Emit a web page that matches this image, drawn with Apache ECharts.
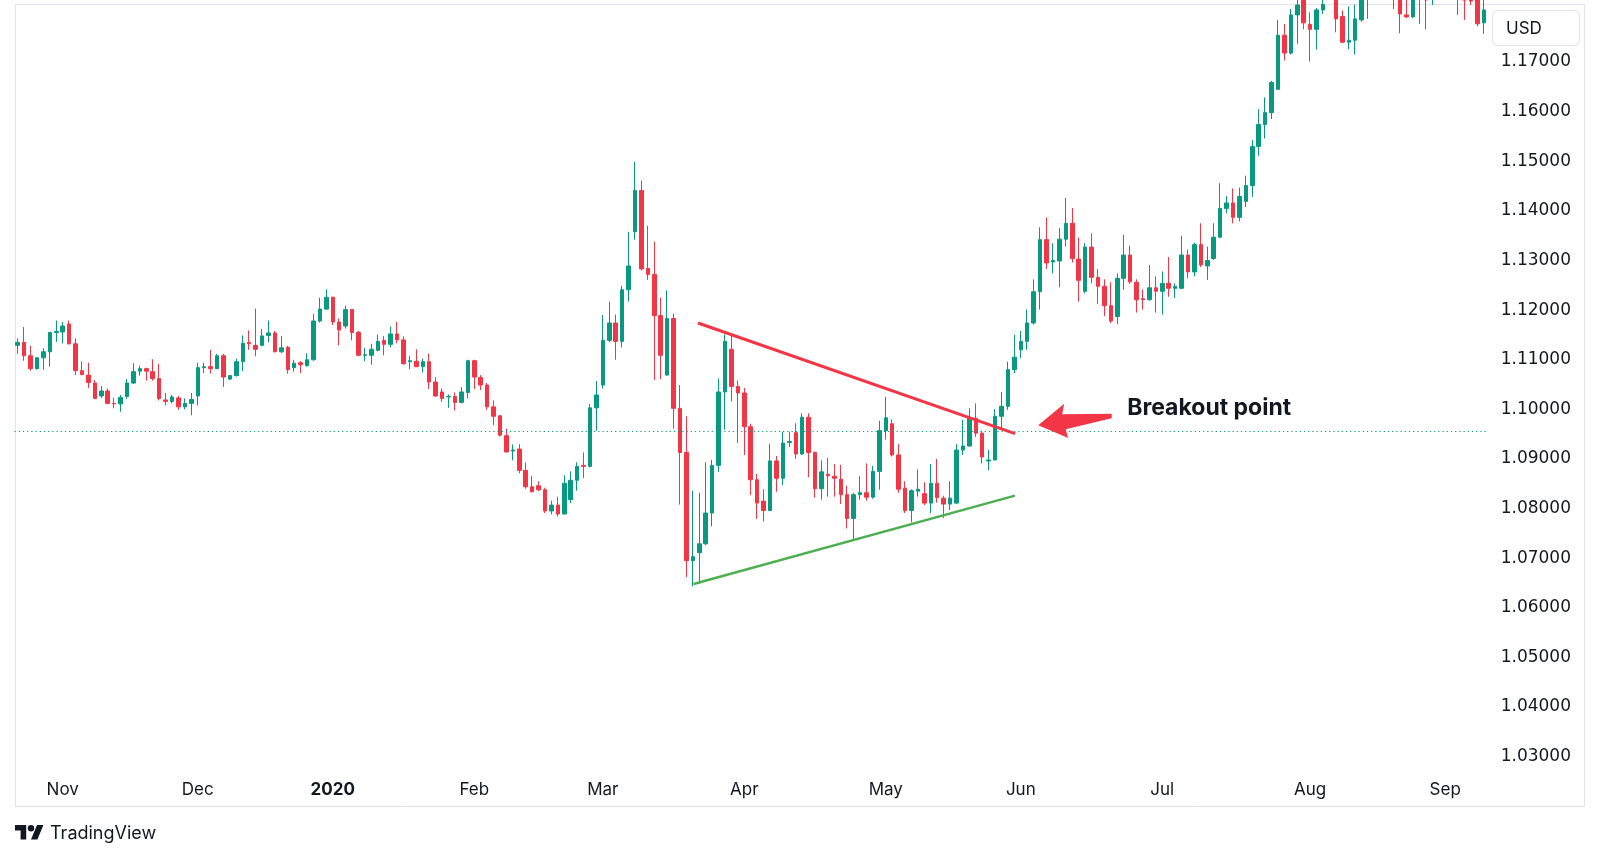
<!DOCTYPE html>
<html>
<head>
<meta charset="utf-8">
<title>EURUSD daily - triangle breakout</title>
<script src="https://cdn.jsdelivr.net/npm/echarts@6/dist/echarts.min.js"></script>
<style>
  html, body { margin: 0; padding: 0; background: #fff; }
  #chart { width: 1600px; height: 859px; }
</style>
</head>
<body>
<div id="chart"></div>
<script>
// daily candles, [open, close, low, high]
const candles2019 = [
  [1.1124, 1.1130, 1.1107, 1.1138], [1.1130, 1.1103, 1.1093, 1.1161], [1.1103, 1.1077, 1.1073, 1.1123],
  [1.1077, 1.1099, 1.1075, 1.1100], [1.1099, 1.1111, 1.1075, 1.1118], [1.1111, 1.1150, 1.1081, 1.1151],
  [1.1150, 1.1152, 1.1131, 1.1174], [1.1151, 1.1163, 1.1128, 1.1171], [1.1167, 1.1127, 1.1126, 1.1174],
  [1.1127, 1.1073, 1.1064, 1.1138], [1.1073, 1.1065, 1.1064, 1.1092], [1.1064, 1.1049, 1.1038, 1.1089],
  [1.1048, 1.1017, 1.1016, 1.1054], [1.1022, 1.1032, 1.1018, 1.1042], [1.1032, 1.1007, 1.1005, 1.1037],
  [1.1007, 1.1006, 1.0997, 1.1018], [1.1006, 1.1019, 1.0990, 1.1024], [1.1021, 1.1048, 1.1016, 1.1056],
  [1.1048, 1.1071, 1.1046, 1.1088], [1.1072, 1.1077, 1.1063, 1.1083], [1.1077, 1.1072, 1.1053, 1.1079],
  [1.1071, 1.1057, 1.1053, 1.1096], [1.1057, 1.1017, 1.1013, 1.1087], [1.1014, 1.1011, 1.1003, 1.1028],
  [1.1011, 1.1020, 1.1007, 1.1024], [1.1018, 1.1000, 1.0994, 1.1022], [1.1000, 1.1007, 1.0995, 1.1017],
  [1.1007, 1.1015, 1.0983, 1.1028], [1.1022, 1.1079, 1.1003, 1.1089], [1.1079, 1.1081, 1.1068, 1.1089],
  [1.1081, 1.1077, 1.1067, 1.1115], [1.1077, 1.1103, 1.1076, 1.1107], [1.1103, 1.1060, 1.1040, 1.1107],
  [1.1056, 1.1063, 1.1054, 1.1064], [1.1063, 1.1091, 1.1061, 1.1097], [1.1091, 1.1128, 1.1072, 1.1144],
  [1.1130, 1.1127, 1.1115, 1.1154], [1.1124, 1.1116, 1.1102, 1.1198], [1.1124, 1.1143, 1.1122, 1.1157],
  [1.1144, 1.1149, 1.1130, 1.1174], [1.1149, 1.1111, 1.1110, 1.1153], [1.1111, 1.1119, 1.1108, 1.1143],
  [1.1120, 1.1075, 1.1067, 1.1123], [1.1079, 1.1088, 1.1071, 1.1095], [1.1089, 1.1085, 1.1068, 1.1092],
  [1.1083, 1.1095, 1.1081, 1.1108], [1.1095, 1.1173, 1.1093, 1.1187], [1.1173, 1.1197, 1.1170, 1.1220],
  [1.1197, 1.1221, 1.1196, 1.1237]
]

const candles2020Q1 = [
  [1.1221, 1.1171, 1.1165, 1.1222], [1.1171, 1.1155, 1.1124, 1.1178], [1.1163, 1.1196, 1.1158, 1.1204],
  [1.1196, 1.1150, 1.1134, 1.1197], [1.1150, 1.1104, 1.1102, 1.1153], [1.1104, 1.1105, 1.1092, 1.1119],
  [1.1104, 1.1116, 1.1085, 1.1127], [1.1114, 1.1132, 1.1112, 1.1146], [1.1134, 1.1126, 1.1104, 1.1143],
  [1.1126, 1.1147, 1.1120, 1.1162], [1.1147, 1.1135, 1.1128, 1.1171], [1.1135, 1.1087, 1.1085, 1.1142],
  [1.1091, 1.1093, 1.1076, 1.1103], [1.1092, 1.1081, 1.1080, 1.1116], [1.1081, 1.1091, 1.1069, 1.1097],
  [1.1091, 1.1050, 1.1036, 1.1107], [1.1050, 1.1022, 1.1020, 1.1060], [1.1030, 1.1017, 1.1010, 1.1037],
  [1.1020, 1.1021, 1.0998, 1.1025], [1.1021, 1.1009, 1.0993, 1.1029], [1.1009, 1.1030, 1.1007, 1.1040],
  [1.1029, 1.1093, 1.1017, 1.1095], [1.1093, 1.1060, 1.1036, 1.1095], [1.1059, 1.1044, 1.1034, 1.1064],
  [1.1044, 1.1000, 1.0994, 1.1048], [1.1000, 1.0981, 1.0963, 1.1013], [1.0982, 1.0943, 1.0940, 1.0983],
  [1.0942, 1.0909, 1.0908, 1.0956], [1.0911, 1.0913, 1.0892, 1.0924], [1.0915, 1.0872, 1.0866, 1.0925],
  [1.0872, 1.0839, 1.0835, 1.0888], [1.0839, 1.0829, 1.0827, 1.0861], [1.0841, 1.0833, 1.0830, 1.0850],
  [1.0833, 1.0790, 1.0786, 1.0837], [1.0790, 1.0802, 1.0783, 1.0811], [1.0802, 1.0784, 1.0779, 1.0819],
  [1.0784, 1.0846, 1.0783, 1.0862], [1.0813, 1.0852, 1.0806, 1.0870], [1.0852, 1.0880, 1.0831, 1.0888],
  [1.0882, 1.0880, 1.0856, 1.0908], [1.0880, 1.0998, 1.0878, 1.1006], [1.0998, 1.1024, 1.0952, 1.1052],
  [1.1044, 1.1134, 1.1037, 1.1185], [1.1134, 1.1169, 1.1131, 1.1212], [1.1169, 1.1132, 1.1095, 1.1186],
  [1.1132, 1.1236, 1.1120, 1.1244], [1.1236, 1.1284, 1.1212, 1.1353], [1.1353, 1.1436, 1.1337, 1.1494],
  [1.1436, 1.1278, 1.1275, 1.1456], [1.1279, 1.1267, 1.1256, 1.1365], [1.1267, 1.1184, 1.1054, 1.1333],
  [1.1184, 1.1104, 1.1056, 1.1220], [1.1064, 1.1178, 1.1063, 1.1235], [1.1178, 1.0997, 1.0956, 1.1188],
  [1.0997, 1.0908, 1.0803, 1.1044], [1.0908, 1.0690, 1.0657, 1.0981], [1.0690, 1.0698, 1.0638, 1.0831],
  [1.0706, 1.0724, 1.0643, 1.0827], [1.0724, 1.0786, 1.0721, 1.0888], [1.0786, 1.0882, 1.0759, 1.0893],
  [1.0882, 1.1030, 1.0869, 1.1057], [1.1030, 1.1132, 1.0954, 1.1146], [1.1116, 1.1041, 1.1011, 1.1146],
  [1.1041, 1.1028, 1.0927, 1.1053]
]

const candles2020Q2 = [
  [1.1028, 1.0960, 1.0903, 1.1038], [1.0960, 1.0853, 1.0822, 1.0966], [1.0853, 1.0806, 1.0774, 1.0865],
  [1.0810, 1.0791, 1.0769, 1.0834], [1.0791, 1.0891, 1.0790, 1.0925], [1.0891, 1.0856, 1.0829, 1.0901],
  [1.0856, 1.0927, 1.0842, 1.0950], [1.0928, 1.0930, 1.0919, 1.0950], [1.0948, 1.0905, 1.0895, 1.0967],
  [1.0905, 1.0979, 1.0903, 1.0987], [1.0979, 1.0908, 1.0858, 1.0987], [1.0908, 1.0835, 1.0817, 1.0910],
  [1.0835, 1.0869, 1.0813, 1.0892], [1.0864, 1.0861, 1.0819, 1.0897], [1.0860, 1.0856, 1.0819, 1.0885],
  [1.0854, 1.0823, 1.0804, 1.0883], [1.0823, 1.0775, 1.0755, 1.0841], [1.0775, 1.0823, 1.0732, 1.0827],
  [1.0823, 1.0827, 1.0813, 1.0860], [1.0827, 1.0818, 1.0811, 1.0886], [1.0818, 1.0870, 1.0815, 1.0881],
  [1.0870, 1.0952, 1.0833, 1.0972], [1.0952, 1.0978, 1.0934, 1.1020], [1.0966, 1.0903, 1.0900, 1.0975],
  [1.0903, 1.0834, 1.0827, 1.0925], [1.0836, 1.0791, 1.0786, 1.0850], [1.0791, 1.0831, 1.0767, 1.0834],
  [1.0830, 1.0834, 1.0819, 1.0874], [1.0825, 1.0806, 1.0802, 1.0848], [1.0806, 1.0846, 1.0786, 1.0885],
  [1.0846, 1.0817, 1.0807, 1.0895], [1.0816, 1.0804, 1.0776, 1.0821], [1.0804, 1.0816, 1.0792, 1.0850],
  [1.0806, 1.0913, 1.0804, 1.0925], [1.0913, 1.0921, 1.0903, 1.0974], [1.0921, 1.0977, 1.0920, 1.0997],
  [1.0977, 1.0947, 1.0939, 1.1007], [1.0947, 1.0899, 1.0886, 1.0952], [1.0891, 1.0893, 1.0872, 1.0913],
  [1.0893, 1.0981, 1.0892, 1.0995], [1.0981, 1.1001, 1.0954, 1.1030], [1.1001, 1.1075, 1.0994, 1.1091],
  [1.1075, 1.1100, 1.1068, 1.1145], [1.1115, 1.1132, 1.1098, 1.1153], [1.1132, 1.1169, 1.1115, 1.1196],
  [1.1169, 1.1232, 1.1166, 1.1257], [1.1232, 1.1337, 1.1196, 1.1362], [1.1337, 1.1290, 1.1278, 1.1382],
  [1.1292, 1.1295, 1.1269, 1.1330], [1.1294, 1.1338, 1.1241, 1.1361], [1.1338, 1.1370, 1.1323, 1.1421],
  [1.1370, 1.1299, 1.1291, 1.1401], [1.1298, 1.1255, 1.1212, 1.1341], [1.1233, 1.1322, 1.1229, 1.1330],
  [1.1322, 1.1261, 1.1249, 1.1350], [1.1261, 1.1243, 1.1208, 1.1278], [1.1243, 1.1204, 1.1183, 1.1257],
  [1.1204, 1.1173, 1.1169, 1.1251], [1.1182, 1.1259, 1.1167, 1.1269], [1.1259, 1.1306, 1.1236, 1.1347],
  [1.1306, 1.1252, 1.1248, 1.1325], [1.1251, 1.1216, 1.1190, 1.1257], [1.1218, 1.1216, 1.1196, 1.1237],
  [1.1216, 1.1240, 1.1214, 1.1286], [1.1240, 1.1233, 1.1190, 1.1263]
]

// from late July the highs run off the top of the pane, those bars are guesses
const candles2020Q3 = [
  [1.1233, 1.1249, 1.1186, 1.1273], [1.1249, 1.1239, 1.1222, 1.1302], [1.1239, 1.1243, 1.1219, 1.1249],
  [1.1239, 1.1306, 1.1237, 1.1345], [1.1306, 1.1272, 1.1259, 1.1317], [1.1272, 1.1327, 1.1263, 1.1331],
  [1.1327, 1.1286, 1.1282, 1.1370], [1.1284, 1.1295, 1.1256, 1.1323], [1.1299, 1.1342, 1.1296, 1.1370],
  [1.1342, 1.1400, 1.1340, 1.1451], [1.1400, 1.1411, 1.1390, 1.1425], [1.1411, 1.1382, 1.1370, 1.1440],
  [1.1382, 1.1424, 1.1374, 1.1442], [1.1414, 1.1446, 1.1403, 1.1466], [1.1446, 1.1525, 1.1423, 1.1538],
  [1.1525, 1.1569, 1.1506, 1.1600], [1.1569, 1.1593, 1.1541, 1.1624], [1.1593, 1.1654, 1.1580, 1.1657],
  [1.1640, 1.1749, 1.1640, 1.1780], [1.1749, 1.1713, 1.1698, 1.1772], [1.1713, 1.1790, 1.1710, 1.1802],
  [1.1790, 1.1810, 1.1732, 1.1840], [1.1835, 1.1774, 1.1761, 1.1850], [1.1771, 1.1761, 1.1696, 1.1795],
  [1.1761, 1.1800, 1.1720, 1.1804], [1.1800, 1.1811, 1.1792, 1.1835], [1.1820, 1.1860, 1.1818, 1.1880],
  [1.1850, 1.1782, 1.1755, 1.1870], [1.1787, 1.1735, 1.1733, 1.1799], [1.1735, 1.1739, 1.1721, 1.1807],
  [1.1739, 1.1782, 1.1710, 1.1811], [1.1780, 1.1835, 1.1776, 1.1850], [1.1830, 1.1860, 1.1782, 1.1880],
  [1.1860, 1.1880, 1.1830, 1.1915], [1.1880, 1.1930, 1.1850, 1.1965], [1.1930, 1.1900, 1.1860, 1.1950],
  [1.1850, 1.1880, 1.1802, 1.1900], [1.1860, 1.1792, 1.1753, 1.1880], [1.1790, 1.1786, 1.1784, 1.1830],
  [1.1786, 1.1830, 1.1784, 1.1850], [1.1850, 1.1825, 1.1772, 1.1880], [1.1840, 1.1820, 1.1761, 1.1870],
  [1.1840, 1.1900, 1.1810, 1.1920], [1.1900, 1.1940, 1.1880, 1.1965], [1.1940, 1.1910, 1.1880, 1.2010],
  [1.1910, 1.1850, 1.1830, 1.1920], [1.1850, 1.1830, 1.1790, 1.1860], [1.1830, 1.1820, 1.1780, 1.1860],
  [1.1825, 1.1818, 1.1810, 1.1840], [1.1830, 1.1772, 1.1767, 1.1850], [1.1774, 1.1800, 1.1752, 1.1820]
]

const firstDay = '2019-10-23'
const holidays = ['2019-12-25', '2020-01-01']

// time scale labels, first trading day of each month
const monthTicks = [
  ['2019-11-01', 'Nov'], ['2019-12-02', 'Dec'], ['2020-01-02', '2020'], ['2020-02-03', 'Feb'],
  ['2020-03-02', 'Mar'], ['2020-04-01', 'Apr'], ['2020-05-01', 'May'], ['2020-06-01', 'Jun'],
  ['2020-07-01', 'Jul'], ['2020-08-03', 'Aug'], ['2020-09-01', 'Sep']
]
const priceTicks = [1.03, 1.04, 1.05, 1.06, 1.07, 1.08, 1.09, 1.10, 1.11, 1.12, 1.13, 1.14, 1.15, 1.16, 1.17]

// triangle drawn on the chart, [bar index, price]
const resistance = [[105.8, 1.1169], [155.1, 1.0946]]
const support = [[105.1, 1.0643], [155.1, 1.0821]]
const breakoutLevel = 1.0951
const arrowTip = [158.7, 1.0963]

const UP = '#089981'
const DOWN = '#f23645'
const LINE_GREEN = '#4caf50'
const INK = '#131722'
const FRAME = '#e0e3eb'
const FONT = 'Inter, "Noto Sans", sans-serif'

function tradingDays (start, count, skip) {
  const days = []
  const d = new Date(start + 'T00:00:00Z')
  while (days.length < count) {
    const iso = d.toISOString().slice(0, 10)
    const wd = d.getUTCDay()
    if (wd !== 0 && wd !== 6 && !skip.includes(iso)) days.push(iso)
    d.setUTCDate(d.getUTCDate() + 1)
  }
  return days
}

const ohlc = [...candles2019, ...candles2020Q1, ...candles2020Q2, ...candles2020Q3]
const dates = tradingDays(firstDay, ohlc.length, holidays)
const tickLabel = Object.fromEntries(monthTicks)

const chart = echarts.init(document.getElementById('chart'))

const option = {
  animation: false,
  backgroundColor: '#ffffff',
  textStyle: { fontFamily: FONT, color: INK },
  grid: { left: 14.5, right: 113, top: 4, bottom: 87 },
  xAxis: [
    {
      type: 'category',
      data: dates,
      boundaryGap: true,
      axisLine: { show: false },
      axisTick: { show: false },
      splitLine: { show: false },
      axisLabel: {
        interval: (i, v) => v in tickLabel,
        formatter: v => {
          const label = tickLabel[v] || ''
          return /^\d{4}$/.test(label) ? `{year|${label}}` : label
        },
        hideOverlap: false,
        margin: 9,
        fontSize: 17,
        color: INK,
        rich: { year: { fontSize: 17, fontWeight: 'bold', color: INK, fontFamily: FONT } }
      }
    },
    // plain index scale for the hand drawn lines
    { type: 'value', min: -0.5, max: ohlc.length - 0.5, show: false }
  ],
  yAxis: {
    type: 'value',
    position: 'right',
    min: 1.0264,
    max: 1.1812,
    axisLine: { show: false },
    axisTick: { show: false },
    splitLine: { show: false },
    axisLabel: {
      customValues: priceTicks,
      formatter: v => v.toFixed(5),
      align: 'right',
      verticalAlign: 'top',
      lineHeight: 5,
      margin: 84,
      fontSize: 17,
      color: INK,
      fontFamily: '"DejaVu Sans", sans-serif'
    }
  },
  series: [
    {
      type: 'candlestick',
      name: 'EURUSD',
      data: ohlc,
      barWidth: 4,
      clip: true,
      itemStyle: { color: UP, color0: DOWN, borderColor: UP, borderColor0: DOWN, borderWidth: 1 },
      markLine: {
        silent: true,
        symbol: 'none',
        precision: 5,
        label: { show: false },
        lineStyle: { color: UP, width: 1.2, type: [1.2, 3] },
        data: [{ yAxis: breakoutLevel }]
      }
    },
    {
      type: 'line',
      name: 'resistance',
      xAxisIndex: 1,
      data: resistance,
      symbol: 'none',
      silent: true,
      z: 5,
      lineStyle: { color: DOWN, width: 3 }
    },
    {
      type: 'line',
      name: 'support',
      xAxisIndex: 1,
      data: support,
      symbol: 'none',
      silent: true,
      z: 5,
      lineStyle: { color: LINE_GREEN, width: 2.5 }
    }
  ],
  graphic: [
    {
      id: 'frame',
      type: 'rect',
      silent: true,
      shape: { x: 15.5, y: 4.5, width: 1569, height: 802 },
      style: { fill: 'none', stroke: FRAME, lineWidth: 1 }
    },
    {
      id: 'currency',
      type: 'group',
      children: [
        {
          type: 'rect',
          shape: { x: 1492.5, y: 10.5, width: 87, height: 35, r: 5 },
          style: { fill: '#fff', stroke: FRAME, lineWidth: 1 }
        },
        {
          type: 'text',
          x: 1506,
          y: 29,
          style: { text: 'USD', fill: INK, fontSize: 17, fontFamily: FONT, verticalAlign: 'middle' }
        }
      ]
    },
    {
      id: 'logo',
      type: 'group',
      x: 15,
      y: 821.8,
      scaleX: 0.8,
      scaleY: 0.8,
      children: [
        { type: 'polygon', shape: { points: [[14, 22], [7, 22], [7, 11], [0, 11], [0, 4], [14, 4]] }, style: { fill: INK } },
        { type: 'polygon', shape: { points: [[28, 22], [20, 22], [27.5, 4], [35.5, 4]] }, style: { fill: INK } },
        { type: 'circle', shape: { cx: 20, cy: 8, r: 4 }, style: { fill: INK } }
      ]
    },
    {
      id: 'brand',
      type: 'text',
      x: 50,
      y: 833.5,
      style: { text: 'TradingView', fill: INK, fontSize: 18, fontFamily: FONT, verticalAlign: 'middle' }
    }
  ]
}

chart.setOption(option)

// annotation: arrow and caption hang off a point in data space
const [tx, ty] = chart.convertToPixel({ seriesIndex: 1 }, arrowTip)
const arrowShape = [[0, 0], [26, -21.5], [24, -11], [73.5, -11.5], [73.5, -7], [27.5, 4], [30, 12.8]]
chart.setOption({
  graphic: [
    {
      id: 'arrow',
      type: 'polygon',
      silent: true,
      z: 10,
      shape: { points: arrowShape.map(([dx, dy]) => [tx + dx, ty + dy]) },
      style: { fill: DOWN }
    },
    {
      id: 'caption',
      type: 'text',
      silent: true,
      z: 10,
      x: tx + 89,
      y: ty - 17.5,
      style: { text: 'Breakout point', fill: INK, fontSize: 23, fontWeight: 'bold', fontFamily: FONT, verticalAlign: 'middle' }
    }
  ]
})
</script>
</body>
</html>
